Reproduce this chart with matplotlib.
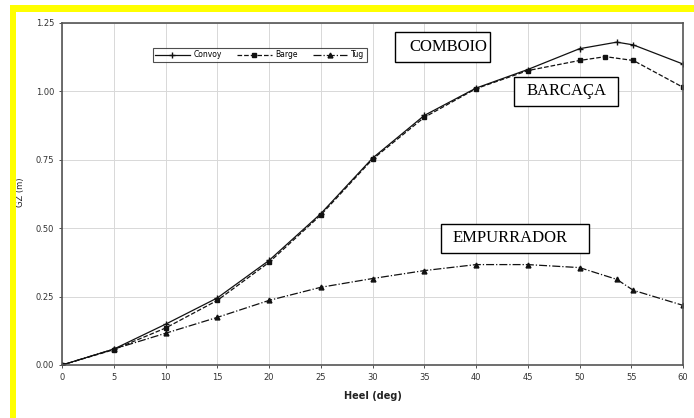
import matplotlib
matplotlib.use('Agg')
import matplotlib.pyplot as plt
from matplotlib.patches import Rectangle

# Data (heel in degrees, GZ in metres)
convoy_heel = [0, 5, 10, 15, 20, 25, 30, 35, 40, 45, 50, 53.6, 55.2, 60]
convoy_gz = [0.0, 0.058, 0.149, 0.245, 0.382, 0.553, 0.756, 0.912, 1.012, 1.080, 1.156, 1.180, 1.170, 1.100]

barge_heel = [0, 5, 10, 15, 20, 25, 30, 35, 40, 45, 50, 52.5, 55.2, 60]
barge_gz = [0.0, 0.056, 0.135, 0.236, 0.375, 0.548, 0.752, 0.905, 1.010, 1.076, 1.113, 1.127, 1.113, 1.015]

tug_heel = [0, 5, 10, 15, 20, 25, 30, 35, 40, 45, 50, 53.6, 55.2, 60]
tug_gz = [0.0, 0.058, 0.116, 0.174, 0.236, 0.284, 0.316, 0.345, 0.367, 0.367, 0.356, 0.313, 0.273, 0.218]

x_ticks = list(range(0, 61, 5))
y_ticks = [0.0, 0.25, 0.5, 0.75, 1.0, 1.25]

fig = plt.figure(figsize=(6.94, 4.18), dpi=100)

# yellow frame on top and left edges
fig.patches.append(Rectangle((10 / 694, 1 - 12 / 418), 1, 7 / 418, transform=fig.transFigure,
                             facecolor='#ffff00', edgecolor='none', zorder=0))
fig.patches.append(Rectangle((10 / 694, 0), 6 / 694, 1 - 5 / 418, transform=fig.transFigure,
                             facecolor='#ffff00', edgecolor='none', zorder=0))

ax = fig.add_axes([62 / 694, 1 - 365 / 418, 621 / 694, 342 / 418])

ax.plot(convoy_heel, convoy_gz, '-', color='#111111', lw=0.9, marker='+', ms=4, mew=1.0, label='Convoy')
ax.plot(barge_heel, barge_gz, '--', color='#111111', lw=0.9, marker='s', ms=3, label='Barge')
ax.plot(tug_heel, tug_gz, '-.', color='#111111', lw=0.9, marker='^', ms=3.5, label='Tug')

ax.set_xlim(0, 60)
ax.set_ylim(0, 1.25)
ax.set_xticks(x_ticks)
ax.set_yticks(y_ticks)
ax.set_xticklabels([str(t) for t in x_ticks])
ax.set_yticklabels(['%.2f' % t for t in y_ticks])
ax.tick_params(labelsize=6, colors='#333333', length=2, width=0.6)
ax.grid(True, color='#d8d8d8', lw=0.7)
for s in ax.spines.values():
    s.set_color('#555555')
    s.set_linewidth(1.2)

ax.set_xlabel('Heel (deg)', fontsize=7, fontweight='bold', color='#222222', labelpad=7)
ax.set_ylabel('GZ (m)', fontsize=6, color='#222222')
ax.yaxis.set_label_coords(-37 / 621, 0.506)

leg = ax.legend(loc='upper left', bbox_to_anchor=(91 / 621, 317 / 342), ncol=3, fontsize=5.5,
                frameon=True, fancybox=False, edgecolor='#222222', handlelength=4.5,
                columnspacing=2.0, borderpad=0.3, handletextpad=0.5, borderaxespad=0)
leg.get_frame().set_linewidth(0.8)


def label_box(x0, y0, x1, y1, text, tx):
    # pixel coordinates of the reference turned into axes fractions
    ax.add_patch(Rectangle(((x0 - 62) / 621, (365 - y1) / 342), (x1 - x0) / 621, (y1 - y0) / 342,
                           transform=ax.transAxes, facecolor='white', edgecolor='black', lw=1.0, zorder=5))
    ax.text((tx - 62) / 621, (365 - (y0 + y1) / 2) / 342, text, transform=ax.transAxes,
            ha='left', va='center', fontsize=12, family='Liberation Serif', zorder=6)


label_box(395, 32, 490, 62, 'COMBOIO', 409)
label_box(514, 77, 618, 106, 'BARCAÇA', 527)
label_box(441, 224, 589, 253, 'EMPURRADOR', 453)

fig.savefig('out.png', dpi=100)
